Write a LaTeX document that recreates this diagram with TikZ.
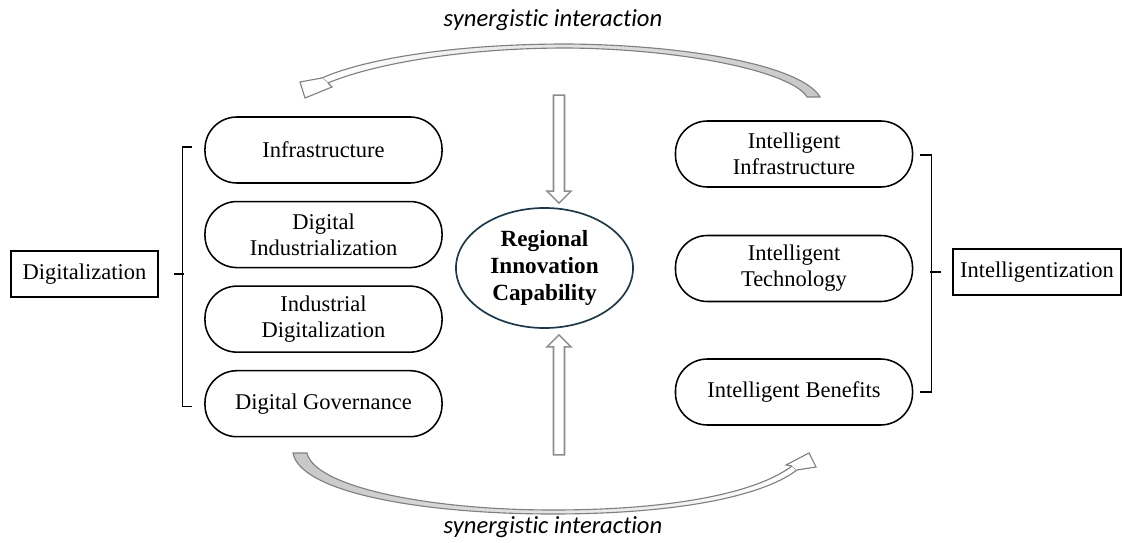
\documentclass[tikz,border=0pt]{standalone}
\usepackage{fontspec}
\setmainfont{Liberation Serif}
\newfontfamily\calibri[Ligatures=NoCommon]{Carlito}
\usetikzlibrary{positioning, calc, shapes.geometric}
\definecolor{ricblue}{RGB}{31,56,72}

\begin{document}
\begin{tikzpicture}[
    x=0.025cm, y=-0.025cm,
    node distance=0.425cm,
    every node/.style={font=\fontsize{16}{18.5}\selectfont, align=center},
    pill/.style={draw, line width=1.1pt, rounded corners=0.8cm, minimum width=5.925cm, minimum height=1.65cm, inner sep=0pt},
    dimbox/.style={draw, line width=1.1pt, minimum height=1.15cm, inner sep=0pt},
    brace/.style={line width=0.8pt},
    hollow/.style={draw=black!45, line width=1.1pt, fill=white, line join=miter},
    band/.style={draw=black!50, line width=0.8pt},
    synlabel/.style={font=\calibri\itshape\fontsize{17.5}{20}\selectfont}
]
\useasboundingbox (0,0) rectangle (1124,543);

% left group
\node[dimbox, minimum width=3.675cm] (dig) at (84.5,274) {Digitalization};
\node[pill] (infra) at (323.5,150) {Infrastructure};
\node[pill, below=of infra] (digind) {Digital\\Industrialization};
\node[pill, below=of digind] (inddig) {Industrial\\Digitalization};
\node[pill, below=of inddig] (diggov) {Digital Governance};
\draw[brace] ($(infra.west)+(-12,-3)$) -- ++(-10,0) |- ($(diggov.west)+(-12,3)$);
\draw[brace] ($(dig.east)+(15,0)$) -- ++(10,0);

% right group
\node[dimbox, minimum width=4.2cm] (intel) at (1037,272) {Intelligentization};
\node[pill] (intinfra) at (794,154) {Intelligent\\Infrastructure};
\node[pill] (inttech) at (794,268.5) {Intelligent\\Technology};
\node[pill] (intben) at (794,392) {Intelligent Benefits};
\draw[brace] ($(intinfra.east)+(7,1)$) -- ++(11,0) |- ($(intben.east)+(7,0)$);
\draw[brace] ($(intel.west)+(-11,0)$) -- ++(-11,0);

% centre
\node[ellipse, draw=ricblue, line width=1.2pt, minimum width=4.425cm, minimum height=3cm, inner sep=0pt,
      font=\bfseries\fontsize{16.5}{19}\selectfont] (ric) at (544.5,268) {Regional\\Innovation\\Capability};
\draw[hollow] ($(ric.north)+(14.5,-4)$) -- ++(12,-12) -- ++(-6.5,0) -- ++(0,-96) -- ++(-11,0) -- ++(0,96) -- ++(-6.5,0) -- cycle;
\draw[hollow] ($(ric.south)+(14.5,6)$) -- ++(12,12) -- ++(-6.5,0) -- ++(0,108) -- ++(-11,0) -- ++(0,-108) -- ++(-6.5,0) -- cycle;

% synergistic interaction arrows
\node[synlabel] (syntop) at (553,20) {synergistic interaction};
\node[synlabel] (synbot) at (553,527) {synergistic interaction};
\draw[band, left color=white, middle color=white, right color=black!22]
    (820,97) .. controls (802,66) and (690,45) .. (567,44) .. controls (450,44) and (362,60) .. (322,78)
    -- (328,83) .. controls (368,66) and (455,48) .. (567,48) .. controls (685,49) and (792,72) .. (807,97) -- cycle;
\draw[band, fill=white] (322,78) -- (300,82) -- (305,98) -- (332,87) -- (328,83);
\draw[band, left color=black!22, middle color=white, right color=white]
    (293,453) .. controls (300,492) and (420,514) .. (553,514) .. controls (670,514) and (760,498) .. (797,470)
    -- (792,466) .. controls (755,494) and (668,510) .. (553,510) .. controls (425,510) and (314,486) .. (307,453) -- cycle;
\draw[band, fill=white] (792,466) -- (786,465) -- (809,453) -- (816,467) -- (797,470);
\end{tikzpicture}
\end{document}
